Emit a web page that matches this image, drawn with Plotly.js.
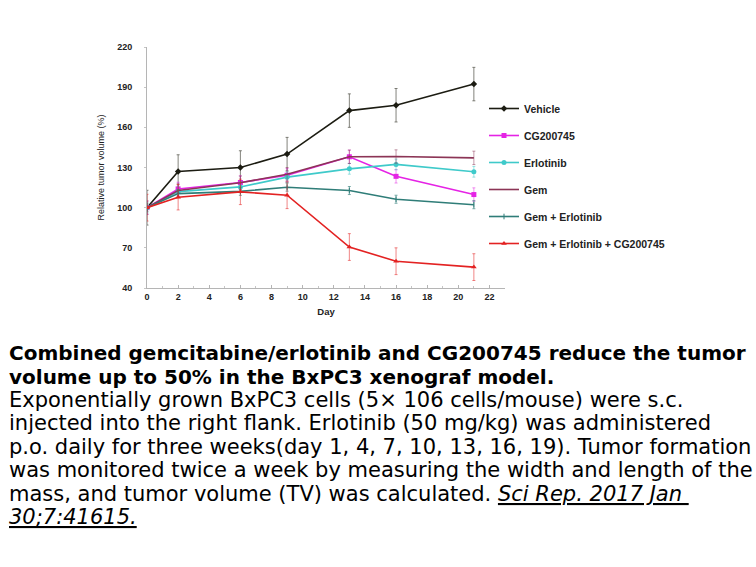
<!DOCTYPE html>
<html>
<head>
<meta charset="utf-8">
<script src="https://cdn.plot.ly/plotly-3.0.1.min.js"></script>
<style>
html,body{margin:0;padding:0;background:#fff;}
#chart{width:756px;height:567px;}
</style>
</head>
<body>
<div id="chart"></div>
<script>
// ---- data ----
var days = [0, 2, 6, 9, 13, 16, 21];
var seriesNames = ["Vehicle", "CG200745", "Erlotinib", "Gem", "Gem + Erlotinib", "Gem + Erlotinib + CG200745"];
var vehicle     = [100, 127, 130, 140, 172.5, 176.5, 192.3];
var vehicleErr  = [13, 12.5, 12.5, 12.5, 12.5, 12.5, 12.5];
var cg200745    = [100, 114, 118.8, 124.2, 138, 123.4, 109.8];
var cg200745Err = [5, 5, 5, 5, 5, 5, 5];
var erlotinib   = [100, 112, 115.5, 122.8, 129, 132.3, 126.8];
var erlotinibErr= [4, 4, 4, 4, 4, 4, 4];
var gem         = [100, 112.8, 118.6, 125, 138, 138.2, 137.2];
var gemErr      = [5, 5, 5, 5, 5, 5, 5];
var gemErl      = [100, 110.5, 112.2, 115.3, 112.8, 106.3, 102.2];
var gemErlErr   = [3, 3, 3, 3, 3, 3, 3];
var triple      = [100, 107.8, 111.8, 109.3, 70.6, 60, 55.6];
var tripleErr   = [10, 9.5, 9.5, 10, 10, 10, 10];
var xTicks = [0, 2, 4, 6, 8, 10, 12, 14, 16, 18, 20, 22];
var yTicks = [40, 70, 100, 130, 160, 190, 220];

var captionLines = [
  "<b>Combined gemcitabine/erlotinib and CG200745 reduce the tumor</b>",
  "<b>volume up to 50% in the BxPC3 xenograf model.</b>",
  "Exponentially grown BxPC3 cells (5× 106 cells/mouse) were s.c.",
  "injected into the right flank. Erlotinib (50 mg/kg) was administered",
  "p.o. daily for three weeks(day 1, 4, 7, 10, 13, 16, 19). Tumor formation",
  "was monitored twice a week by measuring the width and length of the",
  "mass, and tumor volume (TV) was calculated. <u><i>Sci Rep. 2017 Jan </i></u>",
  "<u><i>30;7:41615.</i></u>"
];
var captionBold = [true, true, false, false, false, false, false, false];

// ---- styles ----
var colors = ["#1c1c12", "#e523e5", "#3fcaca", "#8c3556", "#2f7d78", "#e32222"];
var errColors = ["rgba(90,90,80,0.75)", "rgba(229,35,229,0.5)", "rgba(63,202,202,0.5)", "rgba(140,53,86,0.5)", "rgba(47,125,120,0.6)", "rgba(227,34,34,0.55)"];
var symbols = ["diamond", "square", "circle", "line-ew", "line-ns", "triangle-up"];
var msize = [5, 5, 5, 1, 4, 5];
var ys = [vehicle, cg200745, erlotinib, gem, gemErl, triple];
var errs = [vehicleErr, cg200745Err, erlotinibErr, gemErr, gemErlErr, tripleErr];

var traces = ys.map(function (y, i) {
  return {
    x: days, y: y, name: seriesNames[i], type: "scatter", mode: "lines+markers",
    legendgroup: "g" + i,
    line: {color: colors[i], width: 1.6},
    marker: {symbol: symbols[i], size: msize[i], color: colors[i], line: {color: colors[i], width: i === 4 ? 1 : 0}},
    error_y: {type: "data", array: errs[i], visible: true, color: errColors[i], thickness: 1, width: 1.5}
  };
});

// pixel helpers for plot-area-relative placement
var L = 147, R = 505, T = 47, B = 288;
function px2x(px) { return (px - L) / (R - L); }
function px2y(py) { return (B - py) / (B - T); }

var annotations = captionLines.map(function (t, i) {
  var fs = captionBold[i] ? 20 : 21;
  var baseline = 360 + 23.5 * i;
  return {
    xref: "paper", yref: "paper", x: px2x(7), y: px2y(baseline - 0.346 * fs),
    xanchor: "left", yanchor: "middle", showarrow: false, align: "left",
    text: t,
    font: {family: "DejaVu Sans, Liberation Sans, Arial, sans-serif", size: fs, color: "#000"}
  };
});

var layout = {
  width: 756, height: 567,
  margin: {l: L, r: 756 - R, t: T, b: 567 - B},
  paper_bgcolor: "#fff", plot_bgcolor: "#fff",
  font: {family: "Liberation Sans, Arial, sans-serif", color: "#222"},
  showlegend: true,
  legend: {
    x: px2x(484), y: px2y(94), xanchor: "left", yanchor: "top",
    font: {family: "Liberation Sans, Arial, sans-serif", size: 10.5, color: "#222", weight: "bold"},
    tracegroupgap: 8, itemwidth: 30, bgcolor: "rgba(0,0,0,0)"
  },
  xaxis: {
    range: [0, 23], tickvals: xTicks, ticktext: xTicks.map(String),
    showgrid: false, zeroline: false, showline: true, linecolor: "#b5b5b5", linewidth: 1,
    ticks: "inside", ticklen: 3, tickcolor: "#b5b5b5",
    minor: {dtick: 1, ticks: "inside", ticklen: 2, tickcolor: "#c5c5c5"},
    tickfont: {size: 9, weight: "bold", color: "#222"},
    title: {text: "<b>Day</b>", font: {size: 9.5, color: "#222"}, standoff: 7}
  },
  yaxis: {
    range: [40, 220], tickvals: yTicks, ticktext: yTicks.map(String),
    showgrid: false, zeroline: false, showline: true, linecolor: "#b5b5b5", linewidth: 1,
    ticks: "outside", ticklen: 2, tickcolor: "#c5c5c5",
    tickfont: {size: 9, weight: "bold", color: "#222"},
    ticklabelstandoff: 10,
    title: {text: "Relative tumor volume (%)", font: {size: 9, color: "#222"}, standoff: 11}
  },
  annotations: annotations
};

Plotly.newPlot("chart", traces, layout, {staticPlot: true, displayModeBar: false});
</script>
</body>
</html>
